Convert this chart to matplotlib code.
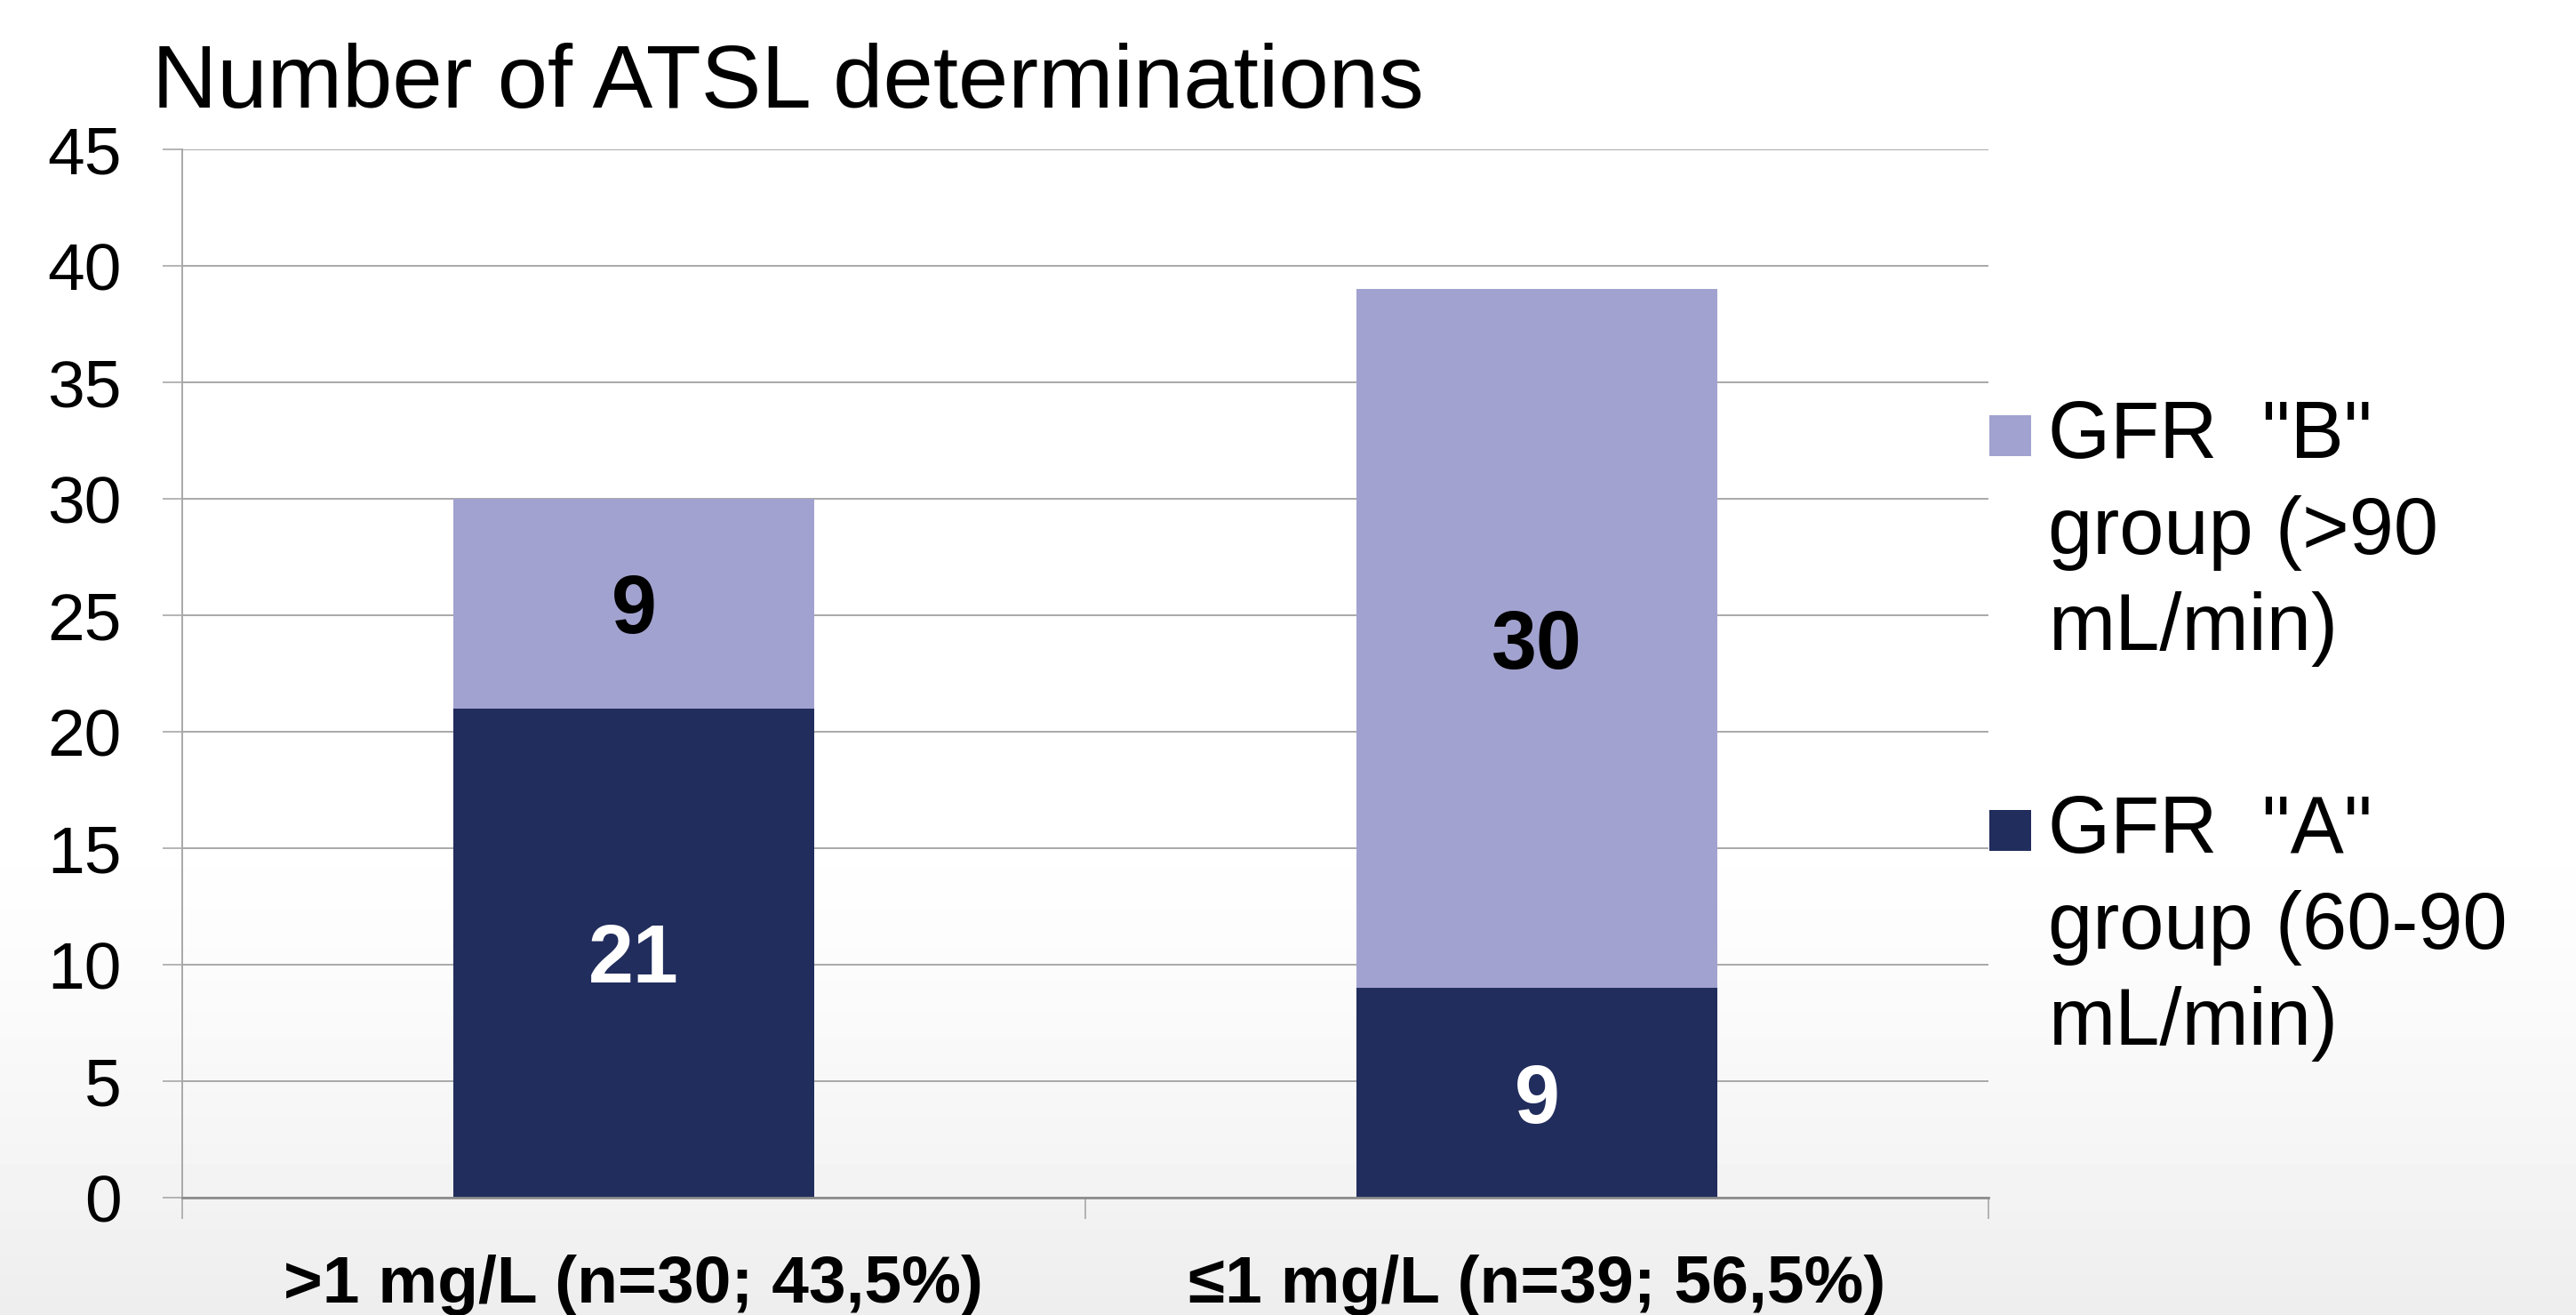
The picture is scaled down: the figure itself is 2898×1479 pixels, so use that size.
import numpy as np
import matplotlib
matplotlib.use("Agg")
import matplotlib.pyplot as plt
from matplotlib.patches import Rectangle
from matplotlib.legend_handler import HandlerPatch

plt.rcParams['font.family'] = ['Liberation Sans', 'DejaVu Sans']

categories = [">1 mg/L (n=30; 43,5%)", "\u22641 mg/L (n=39; 56,5%)"]
gfr_a = [21, 9]
gfr_b = [9, 30]
label_a = 'GFR  "A"\ngroup (60-90\nmL/min)'
label_b = 'GFR  "B"\ngroup (>90\nmL/min)'
yticks = [0, 5, 10, 15, 20, 25, 30, 35, 40, 45]

color_a = "#212D5D"
color_b = "#A2A2D0"
grid_color = "#A8A8A8"

fig = plt.figure(figsize=(28.98, 14.79), dpi=100)

# soft slide background, white fading to light grey at the bottom
bg = fig.add_axes([0, 0, 1, 1], zorder=-10)
ramp = np.linspace(0, 1, 200)
shade = 1 - 0.07 * np.clip((ramp - 0.6) / 0.4, 0, 1) ** 1.5
bg.imshow(shade[:, None], aspect="auto", cmap="gray", vmin=0, vmax=1,
          extent=[0, 1, 0, 1], origin="upper")
bg.set_axis_off()

ax = fig.add_axes([0.0707, 0.0892, 0.7012, 0.7972])
ax.patch.set_alpha(0)

x = np.arange(len(categories))
bars_a = ax.bar(x, gfr_a, width=0.4, color=color_a, label=label_a, zorder=3)
bars_b = ax.bar(x, gfr_b, width=0.4, bottom=gfr_a, color=color_b, label=label_b, zorder=3)

for i in range(len(categories)):
    ax.text(x[i], gfr_a[i] / 2, str(gfr_a[i]), ha="center", va="center_baseline",
            fontsize=66, fontweight="bold", color="white", zorder=4)
    ax.text(x[i], gfr_a[i] + gfr_b[i] / 2, str(gfr_b[i]), ha="center",
            va="center_baseline", fontsize=66, fontweight="bold", color="black", zorder=4)

ax.set_xlim(-0.5, len(categories) - 0.5)
ax.set_ylim(0, 45)
ax.set_yticks(yticks)
ax.yaxis.grid(True, color=grid_color, linewidth=1.4, zorder=0)
ax.tick_params(axis="y", labelsize=54, length=16, width=1.2, color=grid_color, pad=33)

ax.set_xticks(x)
ax.set_xticklabels(categories, fontsize=54, fontweight="bold")
ax.set_xticks(np.arange(len(categories) + 1) - 0.5, minor=True)
ax.tick_params(axis="x", which="major", length=0, pad=46)
ax.tick_params(axis="x", which="minor", length=17, width=1.2, color=grid_color)

for side in ["top", "right"]:
    ax.spines[side].set_visible(False)
ax.spines["left"].set_color(grid_color)
ax.spines["left"].set_linewidth(1.4)
ax.spines["bottom"].set_color("#8C8C8C")
ax.spines["bottom"].set_linewidth(2.0)
ax.spines["bottom"].set_zorder(5)

fig.text(171 / 2898, 1 - 121 / 1479, "Number of ATSL determinations",
         fontsize=73, va="baseline", ha="left")


def square_handle(legend, orig_handle, xdescent, ydescent, width, height, fontsize):
    # square sits a little below the top of the first text line
    return Rectangle((-xdescent, -ydescent), width, 0.51 * fontsize)


leg = ax.legend([bars_b.patches[0], bars_a.patches[0]], [label_b, label_a],
                loc="upper left",
                bbox_to_anchor=(2238 / 2898, 1 - 449 / 1479),
                bbox_transform=fig.transFigure, frameon=False, fontsize=65,
                borderpad=0, borderaxespad=0, handlelength=0.52,
                handleheight=0.72, handletextpad=0.21, labelspacing=1.58,
                handler_map={Rectangle: HandlerPatch(patch_func=square_handle)})
for t in leg.get_texts():
    t.set_linespacing(1.35)
for col in leg._legend_handle_box.get_children():
    for item in col.get_children():
        item.align = "top"

fig.savefig("out.png", dpi=100)
